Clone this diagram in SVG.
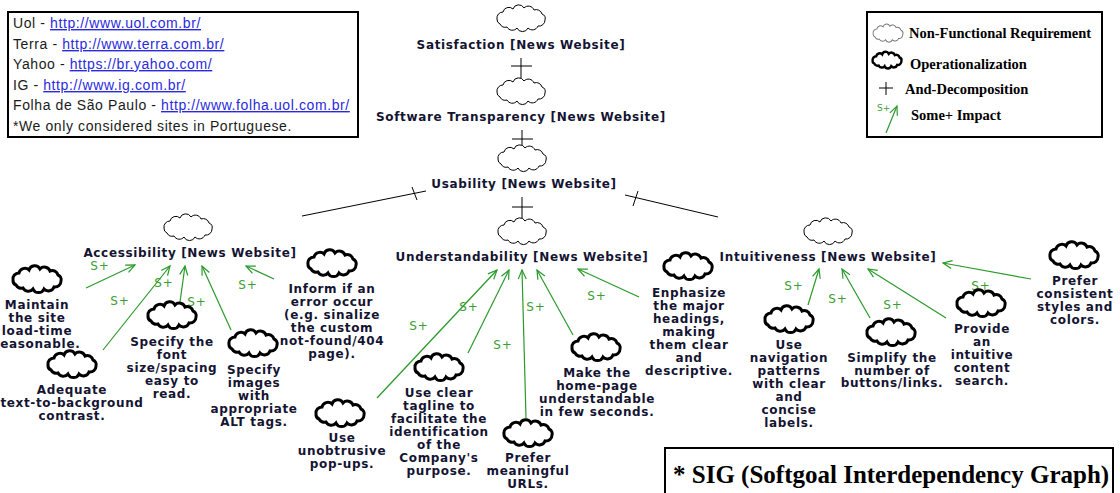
<svg xmlns="http://www.w3.org/2000/svg" xmlns:xlink="http://www.w3.org/1999/xlink" width="1120" height="493" viewBox="0 0 1120 493">
<style>
.nfr{fill:#fff;stroke:#000;stroke-width:1}
.op{fill:#fff;stroke:#000;stroke-width:3}
.lbl{font-family:"DejaVu Sans",Verdana,sans-serif;font-weight:bold;font-size:12px;letter-spacing:0.65px;fill:#141432;text-anchor:middle}
.sp{font-family:"DejaVu Sans",Verdana,sans-serif;font-size:12px;letter-spacing:1px;fill:#3c9e32;text-anchor:middle}
.imp{stroke:#2a9a2a;stroke-width:1.2;fill:none;marker-end:url(#ah)}
.and{stroke:#000;stroke-width:1;fill:none}
.box{fill:#fff;stroke:#000;stroke-width:2}
.src{font-family:"Liberation Sans",Arial,sans-serif;font-size:14px;letter-spacing:0.6px;fill:#1a1a1a}
.lnk{fill:#2a2add;text-decoration:underline}
.leg{font-family:"Liberation Serif","Times New Roman",serif;font-weight:bold;font-size:14.5px;fill:#000}
</style>
<defs>
  <!-- scalloped softgoal cloud, centred on 0,0 -->
  <path id="cloud" d="M-24,1 A6 6 0 0 1 -18,-6 A6 6 0 0 1 -8,-9 A6 6 0 0 1 3,-10 A6 6 0 0 1 13,-8 A6 6 0 0 1 21,-4 A5 5 0 0 1 24,2 A6 6 0 0 1 17,8 A6 6 0 0 1 7,10 A6 6 0 0 1 -4,10 A6 6 0 0 1 -14,9 A6 6 0 0 1 -21,6 A5 5 0 0 1 -24,1Z"/>
  <marker id="ah" viewBox="-11 -6 13 12" refX="0" refY="0" markerWidth="13" markerHeight="12" orient="auto" markerUnits="userSpaceOnUse">
    <path d="M-9,-4 L0,0 L-9,4" fill="none" stroke="#2a9a2a" stroke-width="1.2"/>
  </marker>
</defs>
<rect width="1120" height="493" fill="#fff"/>

<!-- list of sites -->
<g id="sites">
  <rect class="box" x="8" y="12" width="350" height="125"/>
  <text class="src" x="13" y="28">Uol - <tspan class="lnk">http://www.uol.com.br/</tspan></text>
  <text class="src" x="13" y="49">Terra - <tspan class="lnk">http://www.terra.com.br/</tspan></text>
  <text class="src" x="13" y="69">Yahoo - <tspan class="lnk">https://br.yahoo.com/</tspan></text>
  <text class="src" x="13" y="90">IG - <tspan class="lnk">http://www.ig.com.br/</tspan></text>
  <text class="src" x="13" y="110">Folha de São Paulo - <tspan class="lnk">http://www.folha.uol.com.br/</tspan></text>
  <text class="src" x="13" y="131">*We only considered sites in Portuguese.</text>
</g>

<!-- legend -->
<g id="legend">
  <rect class="box" x="867" y="12" width="235" height="125"/>
  <use xlink:href="#cloud" transform="translate(888,33) scale(0.62,0.68)" fill="#fff" stroke="#777" stroke-width="1.5"/>
  <text class="leg" x="909" y="38">Non-Functional Requirement</text>
  <use xlink:href="#cloud" transform="translate(887,60) scale(0.6,0.62)" fill="#fff" stroke="#000" stroke-width="4"/>
  <text class="leg" x="910" y="69">Operationalization</text>
  <path class="and" d="M879,88 H893 M886,82 V95"/>
  <text class="leg" x="905" y="94">And-Decomposition</text>
  <text x="877" y="111" font-family="DejaVu Sans, sans-serif" font-size="9" fill="#3c9e32">S+</text>
  <path class="imp" d="M886,133 L897,106"/>
  <text class="leg" x="911" y="120">Some+ Impact</text>
</g>

<!-- caption -->
<g id="caption">
  <rect class="box" x="665" y="448" width="448" height="60"/>
  <text x="673" y="483" font-family="Liberation Serif, Times New Roman, serif" font-weight="bold" font-size="25" fill="#000">* SIG (Softgoal Interdependency Graph)</text>
</g>

<!-- connectors -->
<g id="connectors">
  <path class="and" d="M511,66 H532 M521,58 V78"/>
  <path class="and" d="M512,139 H533 M522,130 V146"/>
  <path class="and" d="M512,207 H533 M522,197 V219"/>
  <path class="and" d="M302,216 L426,191 M412,187 L417,200"/>
  <path class="and" d="M625,195 L718,217 M638,191 L633,206"/>

  <path class="imp" d="M86,288 L135,265"/>
  <path class="imp" d="M103,350 L170,266"/>
  <path class="imp" d="M180,302 L185,266"/>
  <path class="imp" d="M231,330 L202,266"/>
  <path class="imp" d="M274,279 L246,266"/>

  <path class="imp" d="M377,398 L497,270"/>
  <path class="imp" d="M468,353 L509,270"/>
  <path class="imp" d="M526,418 L522,270"/>
  <path class="imp" d="M573,335 L537,270"/>
  <path class="imp" d="M639,297 L578,269"/>

  <path class="imp" d="M808,305 L819,269"/>
  <path class="imp" d="M870,318 L842,269"/>
  <path class="imp" d="M946,318 L868,269"/>
  <path class="imp" d="M1031,279 L943,263"/>

  <text class="sp" x="100" y="270">S+</text>
  <text class="sp" x="120" y="305">S+</text>
  <text class="sp" x="164" y="287">S+</text>
  <text class="sp" x="197" y="306">S+</text>
  <text class="sp" x="248" y="289">S+</text>
  <text class="sp" x="419" y="330">S+</text>
  <text class="sp" x="469" y="311">S+</text>
  <text class="sp" x="536" y="311">S+</text>
  <text class="sp" x="503" y="349">S+</text>
  <text class="sp" x="597" y="300">S+</text>
  <text class="sp" x="794" y="290">S+</text>
  <text class="sp" x="838" y="303">S+</text>
  <text class="sp" x="893" y="309">S+</text>
  <text class="sp" x="981" y="290">S+</text>
</g>

<!-- softgoals -->
<g id="satisfaction">
  <use xlink:href="#cloud" class="nfr" x="521" y="18"/>
  <text class="lbl" x="521" y="49">Satisfaction [News Website]</text>
</g>
<g id="transparency">
  <use xlink:href="#cloud" class="nfr" x="521" y="91"/>
  <text class="lbl" x="521" y="121">Software Transparency [News Website]</text>
</g>
<g id="usability">
  <use xlink:href="#cloud" class="nfr" x="522" y="158"/>
  <text class="lbl" x="524" y="188">Usability [News Website]</text>
</g>
<g id="accessibility">
  <use xlink:href="#cloud" class="nfr" x="188" y="227"/>
  <text class="lbl" x="190" y="257">Accessibility [News Website]</text>
</g>
<g id="understandability">
  <use xlink:href="#cloud" class="nfr" x="522" y="231"/>
  <text class="lbl" x="522" y="261">Understandability [News Website]</text>
</g>
<g id="intuitiveness">
  <use xlink:href="#cloud" class="nfr" x="828" y="231"/>
  <text class="lbl" x="828" y="261">Intuitiveness [News Website]</text>
</g>

<!-- operationalizations: accessibility -->
<g id="load-time">
  <use xlink:href="#cloud" class="op" x="37" y="279"/>
  <text class="lbl" x="37" y="309">Maintain<tspan x="37" dy="13">the site</tspan><tspan x="37" dy="13">load-time</tspan><tspan x="37" dy="13">reasonable.</tspan></text>
</g>
<g id="contrast">
  <use xlink:href="#cloud" class="op" x="72" y="364"/>
  <text class="lbl" x="72" y="394">Adequate<tspan x="72" dy="13">text-to-background</tspan><tspan x="72" dy="13">contrast.</tspan></text>
</g>
<g id="font-size">
  <use xlink:href="#cloud" class="op" x="172" y="315"/>
  <text class="lbl" x="172" y="346">Specify the<tspan x="172" dy="13">font</tspan><tspan x="172" dy="13">size/spacing</tspan><tspan x="172" dy="13">easy to</tspan><tspan x="172" dy="13">read.</tspan></text>
</g>
<g id="alt-tags">
  <use xlink:href="#cloud" class="op" x="253" y="343"/>
  <text class="lbl" x="254" y="374">Specify<tspan x="254" dy="13">images</tspan><tspan x="254" dy="13">with</tspan><tspan x="254" dy="13">appropriate</tspan><tspan x="254" dy="13">ALT tags.</tspan></text>
</g>
<g id="error-page">
  <use xlink:href="#cloud" class="op" x="332" y="263"/>
  <text class="lbl" x="332" y="293">Inform if an<tspan x="332" dy="13">error occur</tspan><tspan x="332" dy="13">(e.g. sinalize</tspan><tspan x="332" dy="13">the custom</tspan><tspan x="332" dy="13">not-found/404</tspan><tspan x="332" dy="13">page).</tspan></text>
</g>

<!-- operationalizations: understandability -->
<g id="pop-ups">
  <use xlink:href="#cloud" class="op" x="340" y="413"/>
  <text class="lbl" x="342" y="442">Use<tspan x="342" dy="13">unobtrusive</tspan><tspan x="342" dy="13">pop-ups.</tspan></text>
</g>
<g id="tagline">
  <use xlink:href="#cloud" class="op" x="439" y="367"/>
  <text class="lbl" x="439" y="397">Use clear<tspan x="439" dy="13">tagline to</tspan><tspan x="439" dy="13">facilitate the</tspan><tspan x="439" dy="13">identification</tspan><tspan x="439" dy="13">of the</tspan><tspan x="439" dy="13">Company's</tspan><tspan x="439" dy="13">purpose.</tspan></text>
</g>
<g id="urls">
  <use xlink:href="#cloud" class="op" x="528" y="433"/>
  <text class="lbl" x="528" y="462">Prefer<tspan x="528" dy="13">meaningful</tspan><tspan x="528" dy="13">URLs.</tspan></text>
</g>
<g id="home-page">
  <use xlink:href="#cloud" class="op" x="596" y="347"/>
  <text class="lbl" x="597" y="377">Make the<tspan x="597" dy="13">home-page</tspan><tspan x="597" dy="13">understandable</tspan><tspan x="597" dy="13">in few seconds.</tspan></text>
</g>
<g id="headings">
  <use xlink:href="#cloud" class="op" x="688" y="266"/>
  <text class="lbl" x="689" y="297">Enphasize<tspan x="689" dy="13">the major</tspan><tspan x="689" dy="13">headings,</tspan><tspan x="689" dy="13">making</tspan><tspan x="689" dy="13">them clear</tspan><tspan x="689" dy="13">and</tspan><tspan x="689" dy="13">descriptive.</tspan></text>
</g>

<!-- operationalizations: intuitiveness -->
<g id="navigation">
  <use xlink:href="#cloud" class="op" x="789" y="319"/>
  <text class="lbl" x="789" y="349">Use<tspan x="789" dy="13">navigation</tspan><tspan x="789" dy="13">patterns</tspan><tspan x="789" dy="13">with clear</tspan><tspan x="789" dy="13">and</tspan><tspan x="789" dy="13">concise</tspan><tspan x="789" dy="13">labels.</tspan></text>
</g>
<g id="buttons">
  <use xlink:href="#cloud" class="op" x="891" y="332"/>
  <text class="lbl" x="892" y="362">Simplify the<tspan x="892" dy="12.5">number of</tspan><tspan x="892" dy="12.5">buttons/links.</tspan></text>
</g>
<g id="search">
  <use xlink:href="#cloud" class="op" x="981" y="303"/>
  <text class="lbl" x="982" y="333">Provide<tspan x="982" dy="13">an</tspan><tspan x="982" dy="13">intuitive</tspan><tspan x="982" dy="13">content</tspan><tspan x="982" dy="13">search.</tspan></text>
</g>
<g id="styles">
  <use xlink:href="#cloud" class="op" x="1074" y="255"/>
  <text class="lbl" x="1075" y="285">Prefer<tspan x="1075" dy="13">consistent</tspan><tspan x="1075" dy="13">styles and</tspan><tspan x="1075" dy="13">colors.</tspan></text>
</g>
</svg>
